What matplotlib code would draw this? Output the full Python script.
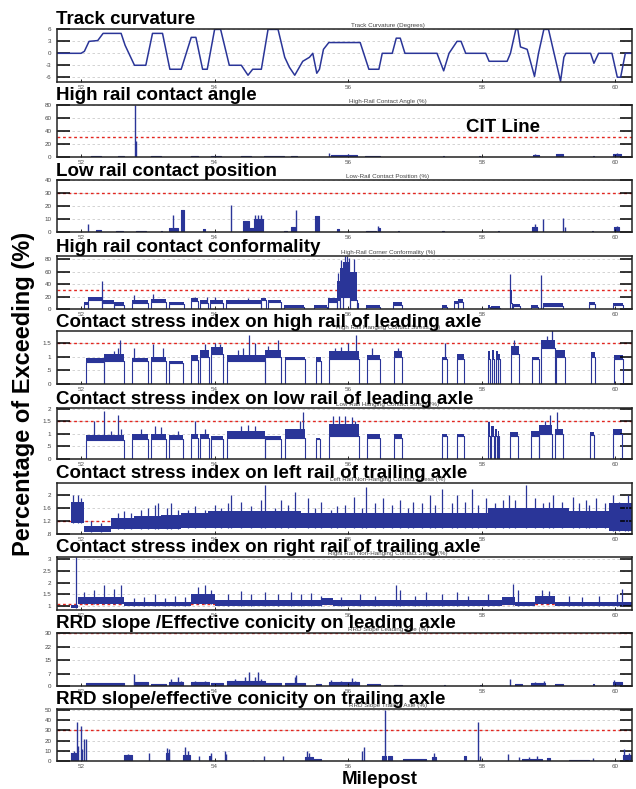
import matplotlib.pyplot as plt

plt.rcParams['font.family'] = ['Liberation Sans', 'DejaVu Sans']

BLUE = '#2a3598'
RED = '#e3261f'

x_min, x_max = 51.64, 60.25
mile_ticks = [52, 54, 56, 58, 60]

titles = ["Track curvature", "High rail contact angle", "Low rail contact position",
          "High rail contact conformality",
          "Contact stress index on high rail of leading axle",
          "Contact stress index on low rail of leading axle",
          "Contact stress index on left rail of trailing axle",
          "Contact stress index on right rail of trailing axle",
          "RRD slope /Effective conicity on leading axle",
          "RRD slope/effective conicity on trailing axle"]
sub_titles = ["Track Curvature (Degrees)", "High-Rail Contact Angle (%)",
              "Low-Rail Contact Position (%)", "High-Rail Corner Conformality (%)",
              "High Rail Hanging Contact Stress (%)", "Low Rail Hanging Contact Stress (%)",
              "Left Rail Non-Hanging Contact Stress (%)", "Right Rail Non-Hanging Contact Stress (%)",
              "RRD Slope Leading Axle (%)", "RRD Slope Trailing Axle (%)"]

# panel 1: track curvature vertices (milepost, degrees)
curve_mp = [51.64, 52.0, 52.05, 52.12, 52.25, 52.33, 52.6, 52.66, 52.8, 52.97, 53.07, 53.22,
            53.33, 53.5, 53.65, 53.72, 53.82, 53.89, 54.0, 54.09, 54.22, 54.4, 54.5, 54.57,
            54.7, 54.8, 54.95, 55.05, 55.12, 55.2, 55.32, 55.42, 55.47, 55.53, 55.57, 55.63,
            55.71, 56.18, 56.31, 56.46, 56.51, 56.66, 56.72, 56.78, 56.85, 57.33, 57.43,
            57.51, 57.63, 57.69, 57.76, 58.06, 58.11, 58.38, 58.43, 58.51, 58.54, 58.58,
            58.68, 58.79, 58.85, 58.93, 59.0, 59.18, 59.23, 59.26, 59.63, 59.68, 59.75,
            59.95, 60.03, 60.08, 60.15, 60.25]
curve_deg = [0, 0, 0.5, 3, 3.2, 5, 5, 2, -3, -3, 5, 5,
             -4, -4, 4, 4, -4, -4, 6, 6, -3, -3, -5.5, -4,
             -4, 6, 6, -1, -3.5, -5.5, -2, -1, 0, -5, -4, 1,
             2.7, 2.7, -4, -4, 0, 0, 3.8, 3.8, 0, 0, -4.4,
             0, 3, 3, 0, 0, -2, -2, 0, 6, 6, 1.6,
             1, -5.8, 0, 6, 6, -7, -1, 0, 0, -2.5, 0,
             0, -6, -6, 0, 0]

# panels with boxes from zero: (start, end, height); spikes: (milepost, height)
angle_boxes = [(52.15, 52.3, 2), (52.55, 52.64, 1), (53.05, 53.2, 1), (53.64, 53.75, 1.5),
               (53.94, 54.09, 1.5), (54.39, 54.54, 1), (54.74, 55.04, 1.5), (55.14, 55.24, 1),
               (55.75, 56.13, 3), (56.25, 56.48, 1), (57.42, 57.44, 1), (57.96, 57.98, 1),
               (58.77, 58.85, 3), (59.11, 59.22, 4), (59.66, 59.68, 1), (59.97, 60.09, 4)]
angle_spikes = [(52.81, 80), (52.82, 25), (55.72, 6), (56.0, 4), (58.8, 5), (60.02, 6)]

position_boxes = [(52.22, 52.3, 1.5), (52.52, 52.63, 1), (52.82, 52.97, 0.8), (53.19, 53.21, 0.5),
                  (53.32, 53.36, 3), (53.39, 53.45, 3), (53.49, 53.54, 17), (53.82, 53.85, 2),
                  (54.43, 54.52, 8.5), (54.53, 54.59, 3), (54.59, 54.72, 10), (55.04, 55.08, 1),
                  (55.14, 55.21, 4), (55.51, 55.56, 12.5), (55.84, 55.86, 2), (56.26, 56.42, 1),
                  (56.44, 56.47, 3), (56.74, 56.76, 1), (57.41, 57.43, 1), (58.24, 58.26, 1),
                  (58.75, 58.83, 4), (59.65, 59.67, 1), (59.98, 60.06, 4)]
position_spikes = [(52.11, 6.4), (53.37, 13.3), (54.25, 21), (54.61, 13), (54.65, 13),
                   (54.7, 13), (55.22, 17), (56.45, 4.5), (58.8, 6), (58.92, 10),
                   (59.22, 11), (59.24, 4), (60.02, 5)]

rrd_lead_boxes = [(52.07, 52.65, 1.5), (52.8, 53.0, 2), (53.05, 53.27, 1), (53.32, 53.53, 2),
                  (53.64, 53.92, 2), (53.95, 54.12, 1.5), (54.19, 54.75, 3), (54.75, 55.0, 1.5),
                  (55.05, 55.35, 1.5), (55.52, 55.6, 1), (55.72, 56.16, 2.5), (56.28, 56.48, 1),
                  (56.69, 56.81, 0.8), (57.43, 57.45, 0.5), (57.97, 57.99, 0.5), (58.5, 58.6, 1),
                  (58.74, 58.95, 1.5), (59.1, 59.22, 1), (59.66, 59.68, 1), (59.97, 60.1, 2.5)]
rrd_lead_spikes = [(52.79, 7), (53.35, 4), (53.45, 5), (53.5, 3), (53.7, 3), (53.85, 3),
                   (54.3, 4), (54.45, 5), (54.52, 8), (54.6, 5), (54.65, 8), (54.7, 4),
                   (55.2, 5), (55.22, 6), (55.75, 3.5), (55.9, 3), (56.05, 4.5), (56.1, 3),
                   (58.43, 4), (58.8, 2), (58.93, 3), (59.98, 3.5)]

rrd_trail_boxes = [(51.85, 51.92, 8), (52.64, 52.77, 6), (53.27, 53.32, 8), (53.53, 53.63, 6),
                   (53.92, 53.95, 5), (55.35, 55.47, 4), (55.47, 55.6, 1.5), (56.5, 56.57, 5),
                   (56.6, 56.65, 5), (56.82, 57.17, 2), (57.25, 57.32, 4), (57.74, 57.77, 5),
                   (58.6, 58.9, 1.5), (58.97, 59.02, 3), (59.3, 59.6, 1), (60.11, 60.25, 6)]
rrd_trail_spikes = [(51.89, 10), (51.94, 38), (51.96, 15), (52.0, 34), (52.02, 12), (52.05, 22),
                    (52.07, 22), (52.7, 7), (53.02, 8), (53.28, 13), (53.31, 12), (53.55, 14),
                    (53.6, 10), (53.77, 5), (53.94, 8), (54.15, 10), (54.17, 7), (54.58, 1),
                    (54.74, 5), (55.02, 5), (55.38, 10), (55.42, 8), (56.21, 10), (56.23, 14),
                    (56.55, 50), (57.28, 8), (57.94, 38), (57.97, 5), (58.39, 7), (58.56, 4),
                    (58.71, 4), (58.82, 5), (59.66, 3), (60.13, 12), (60.2, 8)]

# band panels: (start, end, low, high); spikes: (milepost, top)
conform_bands = [(52.04, 52.1, 8, 12), (52.1, 52.32, 14, 19), (52.32, 52.5, 10, 14),
                 (52.5, 52.65, 7, 11), (52.77, 53.0, 10, 14), (53.05, 53.27, 12, 16),
                 (53.32, 53.54, 8, 12), (53.64, 53.75, 13, 17), (53.78, 53.9, 10, 15),
                 (53.93, 54.12, 10, 14), (54.17, 54.7, 10, 14), (54.7, 54.77, 14, 18),
                 (54.8, 54.99, 11, 15), (55.04, 55.34, 4, 7), (55.49, 55.68, 3, 6),
                 (55.7, 55.83, 12, 17), (55.83, 55.88, 15, 45), (55.88, 55.93, 20, 65),
                 (55.93, 56.03, 20, 75), (56.03, 56.13, 15, 60), (56.13, 56.15, 10, 15),
                 (56.26, 56.47, 3, 6), (56.67, 56.81, 7, 11), (57.4, 57.48, 4, 7),
                 (57.59, 57.65, 9, 13), (57.65, 57.72, 12, 16), (58.09, 58.12, 4, 7),
                 (58.14, 58.28, 2, 5), (58.43, 58.45, 10, 30), (58.47, 58.58, 5, 8),
                 (58.74, 58.84, 4, 7), (58.92, 59.22, 5, 9), (59.61, 59.69, 8, 11),
                 (59.96, 60.11, 6, 10)]
conform_spikes = [(52.32, 45), (52.79, 22), (53.08, 24), (53.7, 20), (53.88, 20), (54.0, 20),
                  (54.5, 18), (55.85, 58), (55.9, 78), (55.95, 85), (55.98, 85), (56.01, 82),
                  (56.08, 80), (58.43, 56), (58.89, 54)]

high_lead_bands = [(52.07, 52.35, 0.8, 0.95), (52.35, 52.65, 0.85, 1.1), (52.77, 53.0, 0.82, 0.95),
                   (53.05, 53.27, 0.85, 1.0), (53.32, 53.53, 0.78, 0.85), (53.64, 53.75, 0.88, 1.05),
                   (53.78, 53.92, 1.0, 1.25), (53.95, 54.12, 1.1, 1.35), (54.19, 54.75, 0.85, 1.05),
                   (54.75, 55.0, 1.0, 1.25), (55.05, 55.35, 0.9, 1.0), (55.52, 55.6, 0.85, 1.0),
                   (55.72, 56.16, 0.9, 1.2), (56.28, 56.48, 0.9, 1.05), (56.69, 56.81, 1.0, 1.2),
                   (57.41, 57.48, 0.9, 1.0), (57.63, 57.74, 0.9, 1.1), (58.09, 58.12, 0.9, 1.2),
                   (58.16, 58.19, 0.9, 1.25), (58.21, 58.24, 0.9, 1.2), (58.25, 58.28, 0.9, 1.1),
                   (58.44, 58.56, 1.1, 1.4), (58.76, 58.86, 0.9, 1.0), (58.88, 59.09, 1.3, 1.6),
                   (59.11, 59.24, 1.0, 1.25), (59.64, 59.7, 1.0, 1.15), (59.98, 60.12, 0.9, 1.05)]
high_lead_spikes = [(52.5, 1.2), (52.55, 1.3), (52.59, 1.6), (52.8, 1.3), (53.08, 1.45),
                    (53.22, 1.3), (53.85, 1.45), (54.0, 1.5), (54.08, 1.45), (54.35, 1.25),
                    (54.42, 1.3), (54.51, 1.8), (54.6, 1.5), (54.8, 1.4), (54.95, 1.6),
                    (55.8, 1.3), (55.9, 1.35), (56.0, 1.5), (56.11, 1.8), (56.35, 1.3),
                    (56.75, 1.3), (57.45, 1.5), (58.49, 1.6), (58.97, 1.75), (59.05, 1.95)]

low_lead_bands = [(52.07, 52.65, 0.75, 0.95), (52.77, 53.0, 0.8, 1.0), (53.05, 53.27, 0.8, 1.0),
                  (53.32, 53.53, 0.8, 0.95), (53.64, 53.75, 0.85, 1.0), (53.78, 53.92, 0.85, 1.0),
                  (53.95, 54.12, 0.8, 0.9), (54.19, 54.75, 0.85, 1.1), (54.75, 55.0, 0.8, 0.9),
                  (55.05, 55.35, 0.85, 1.2), (55.52, 55.58, 0.8, 0.85), (55.72, 56.16, 0.9, 1.4),
                  (56.28, 56.48, 0.85, 1.0), (56.69, 56.81, 0.85, 1.0), (57.41, 57.48, 0.9, 1.0),
                  (57.63, 57.74, 0.9, 1.0), (58.09, 58.12, 0.9, 1.45), (58.14, 58.18, 0.9, 1.3),
                  (58.2, 58.23, 0.9, 1.2), (58.24, 58.26, 0.9, 1.1), (58.43, 58.55, 0.9, 1.05),
                  (58.74, 58.85, 0.9, 1.1), (58.86, 59.05, 1.0, 1.35), (59.1, 59.22, 1.0, 1.2),
                  (59.62, 59.68, 0.95, 1.05), (59.97, 60.1, 1.0, 1.2)]
low_lead_spikes = [(52.2, 1.5), (52.35, 1.9), (52.45, 1.1), (52.55, 1.75), (52.6, 1.2),
                   (52.9, 1.2), (53.1, 1.3), (53.2, 1.25), (53.45, 1.1), (53.7, 1.5), (53.85, 1.2),
                   (54.4, 1.3), (54.5, 1.35), (54.6, 1.3), (55.28, 1.5), (55.33, 1.85),
                   (55.78, 1.7), (55.87, 1.7), (55.95, 1.7), (56.05, 1.65), (56.1, 1.5),
                   (58.95, 1.5), (59.02, 1.75), (59.13, 1.85)]

left_trail_bands = [(51.64, 51.85, 1.19, 1.21), (51.85, 52.05, 1.15, 1.8), (52.05, 52.45, 0.85, 1.05),
                    (52.45, 52.8, 0.95, 1.3), (52.8, 53.2, 0.95, 1.35), (53.2, 53.5, 0.95, 1.4),
                    (53.5, 53.9, 1.0, 1.45), (53.9, 54.3, 1.0, 1.5), (54.3, 54.8, 1.0, 1.5),
                    (54.8, 55.3, 1.0, 1.5), (55.3, 55.7, 1.0, 1.45), (55.7, 56.5, 1.0, 1.45),
                    (56.5, 57.5, 0.98, 1.45), (57.5, 58.1, 1.0, 1.45), (58.1, 59.3, 1.0, 1.6),
                    (59.3, 59.9, 1.0, 1.5), (59.9, 60.25, 0.9, 1.75)]
left_trail_spikes = [(51.88, 2.0), (51.95, 2.0), (52.0, 1.9), (52.15, 1.2), (52.3, 1.15),
                     (52.55, 1.45), (52.65, 1.5), (52.75, 1.45), (52.9, 1.55), (53.0, 1.6),
                     (53.1, 1.7), (53.15, 1.75), (53.28, 1.6), (53.35, 1.75), (53.45, 1.55),
                     (53.6, 1.55), (53.7, 1.65), (53.85, 1.55), (54.0, 1.7), (54.1, 1.6),
                     (54.2, 1.75), (54.25, 2.0), (54.4, 1.8), (54.55, 1.65), (54.7, 1.85),
                     (54.75, 2.3), (54.9, 1.6), (55.0, 1.85), (55.1, 1.7), (55.2, 2.1),
                     (55.4, 1.9), (55.5, 1.6), (55.6, 1.8), (55.75, 1.55), (55.83, 1.65),
                     (55.95, 1.7), (56.08, 1.95), (56.2, 1.6), (56.27, 2.25), (56.4, 1.75),
                     (56.52, 1.9), (56.65, 1.7), (56.77, 1.85), (56.9, 1.6), (56.97, 1.8),
                     (57.1, 1.75), (57.22, 2.0), (57.3, 1.7), (57.4, 2.2), (57.55, 1.75),
                     (57.63, 2.0), (57.75, 1.8), (57.85, 2.2), (57.95, 1.7), (58.07, 1.9),
                     (58.2, 1.75), (58.32, 1.85), (58.41, 2.0), (58.5, 1.85), (58.67, 2.3),
                     (58.8, 1.9), (58.92, 1.75), (59.0, 1.8), (59.07, 2.0), (59.2, 1.8),
                     (59.37, 1.95), (59.45, 1.75), (59.56, 1.85), (59.6, 1.7), (59.71, 1.9),
                     (59.85, 1.75), (59.96, 2.0), (60.05, 1.8), (60.15, 1.75), (60.19, 2.0)]

right_trail_bands = [(51.64, 51.85, 1.09, 1.11), (51.85, 51.95, 0.95, 1.05), (51.95, 52.65, 1.1, 1.4),
                     (52.65, 53.65, 1.0, 1.2), (53.65, 54.0, 1.1, 1.5), (54.0, 55.6, 1.0, 1.25),
                     (55.6, 55.78, 1.05, 1.35), (55.78, 58.3, 1.0, 1.25), (58.3, 58.5, 1.05, 1.4),
                     (58.5, 58.8, 1.0, 1.2), (58.8, 59.1, 1.1, 1.45), (59.1, 60.25, 1.0, 1.2)]
right_trail_spikes = [(51.93, 3.07), (52.05, 1.6), (52.2, 1.7), (52.35, 1.9), (52.5, 1.75),
                      (52.6, 1.9), (52.8, 1.35), (52.95, 1.4), (53.1, 1.5), (53.25, 1.35),
                      (53.4, 1.45), (53.55, 1.4), (53.75, 1.8), (53.85, 1.9), (53.95, 1.7),
                      (54.2, 1.5), (54.4, 1.65), (54.55, 1.5), (54.75, 1.6), (54.95, 1.5),
                      (55.15, 1.6), (55.3, 1.5), (55.45, 1.55), (55.6, 1.45), (55.9, 1.4),
                      (56.17, 1.5), (56.4, 1.45), (56.72, 1.9), (56.78, 1.7), (57.0, 1.45),
                      (57.17, 1.6), (57.4, 1.5), (57.63, 1.6), (57.8, 1.45), (58.1, 1.5),
                      (58.47, 1.95), (58.55, 1.7), (58.9, 1.7), (59.0, 1.65), (59.3, 1.45),
                      (59.5, 1.4), (59.75, 1.45), (60.02, 1.5), (60.1, 1.75)]

# y axis settings per panel
y_limits = [(-7.2, 6.1), (0, 80), (0, 40), (0, 85), (0, 1.93), (0, 2.02),
            (0.8, 2.37), (0.85, 3.07), (0, 30.2), (0, 51)]
y_ticks = [[-6, -3, 0, 3, 6], [0, 20, 40, 60, 80], [0, 10, 20, 30, 40], [0, 20, 40, 60, 80],
           [0, 0.5, 1, 1.5], [0, 0.5, 1, 1.5, 2], [0.8, 1.2, 1.6, 2], [1, 1.5, 2, 2.5, 3],
           [0, 7, 15, 22, 30], [0, 10, 20, 30, 40, 50]]
y_labels = [["-6", "-3", "0", "3", "6"], ["0", "20", "40", "60", "80"],
            ["0", "10", "20", "30", "40"], ["0", "20", "40", "60", "80"],
            ["0", ".5", "1", "1.5"], ["0", ".5", "1", "1.5", "2"], [".8", "1.2", "1.6", "2"],
            ["1", "1.5", "2", "2.5", "3"], ["0", "7", "15", "22", "30"],
            ["0", "10", "20", "30", "40", "50"]]
cit_levels = [None, 30, 30, 30, 1.5, 1.5, 1.2, 1.1, 30, 30]

# panel positions in pixels (top, bottom)
W, H = 636, 789
boxes = [(29, 82), (105, 157), (180, 232), (256, 309), (331, 384), (408, 459),
         (483, 534), (557, 610), (633, 686), (709, 761)]


def draw_boxes(ax, segs, spikes):
    for x0, x1, h in segs:
        ax.fill_between([x0, x1], 0, h, color=BLUE, lw=0)
        ax.plot([x0, x0, x1, x1], [0, h, h, 0], color=BLUE, lw=0.8)
    ax.vlines([s[0] for s in spikes], 0, [s[1] for s in spikes], color=BLUE, lw=1.0)


def draw_bands(ax, bands, spikes, edges):
    for x0, x1, lo, hi in bands:
        ax.fill_between([x0, x1], lo, hi, color=BLUE, lw=0)
        if edges:
            ax.plot([x0, x0, x1, x1], [0, lo, lo, 0], color=BLUE, lw=0.8)
    for x, top in spikes:
        base = min([b[2] for b in bands if b[0] <= x <= b[1]] or [0])
        ax.vlines(x, base, top, color=BLUE, lw=0.9)


fig = plt.figure(figsize=(W / 100, H / 100), dpi=100)
axes = []
for i, (top, bot) in enumerate(boxes):
    ax = fig.add_axes([57 / W, 1 - bot / H, 575 / W, (bot - top) / H])
    axes.append(ax)
    ax.set_xlim(x_min, x_max)
    ax.set_ylim(*y_limits[i])
    ax.set_yticks(y_ticks[i])
    ax.set_yticklabels(y_labels[i])
    ax.set_xticks(mile_ticks)
    ax.set_xticklabels([str(t) for t in mile_ticks])
    ax.tick_params(axis='y', direction='in', length=9, width=1.1, left=True, right=True,
                   labelsize=4.5, labelcolor='#444444', pad=4)
    ax.tick_params(axis='x', direction='in', length=2, width=0.6, labelsize=4.5,
                   labelcolor='#555555', pad=2)
    for s in ax.spines.values():
        s.set_linewidth(1.1)
        s.set_color('#222222')
    for t in y_ticks[i]:
        ax.axhline(t, color='#cccccc', lw=0.6, ls=(0, (3, 3)), zorder=0)
    if cit_levels[i] is not None:
        ax.axhline(cit_levels[i], color=RED, lw=1.0, ls=(0, (2, 2)), zorder=1)
    fig.text(388 / W, 1 - (top - 2) / H, sub_titles[i], fontsize=4.5, color='#444444',
             ha='center', va='baseline')
    fig.text(56 / W, 1 - (top - 4.5) / H, titles[i], fontsize=13.5, fontweight='bold',
             ha='left', va='baseline', zorder=10)

axes[0].plot(curve_mp, curve_deg, color=BLUE, lw=1.1)
draw_boxes(axes[1], angle_boxes, angle_spikes)
draw_boxes(axes[2], position_boxes, position_spikes)
draw_bands(axes[3], conform_bands, conform_spikes, True)
draw_bands(axes[4], high_lead_bands, high_lead_spikes, True)
draw_bands(axes[5], low_lead_bands, low_lead_spikes, True)
draw_bands(axes[6], left_trail_bands, left_trail_spikes, False)
draw_bands(axes[7], right_trail_bands, right_trail_spikes, False)
draw_boxes(axes[8], rrd_lead_boxes, rrd_lead_spikes)
draw_boxes(axes[9], rrd_trail_boxes, rrd_trail_spikes)

fig.text(503 / W, 1 - 132 / H, "CIT Line", fontsize=13.5, fontweight='bold',
         ha='center', va='baseline')
fig.text(24 / W, 1 - 393.5 / H, "Percentage of Exceeding (%)", fontsize=17,
         fontweight='bold', rotation=90, ha='center', va='center')
fig.text(379.5 / W, 1 - 784 / H, "Milepost", fontsize=13.5, fontweight='bold',
         ha='center', va='baseline')

fig.savefig("out.png", dpi=100)
